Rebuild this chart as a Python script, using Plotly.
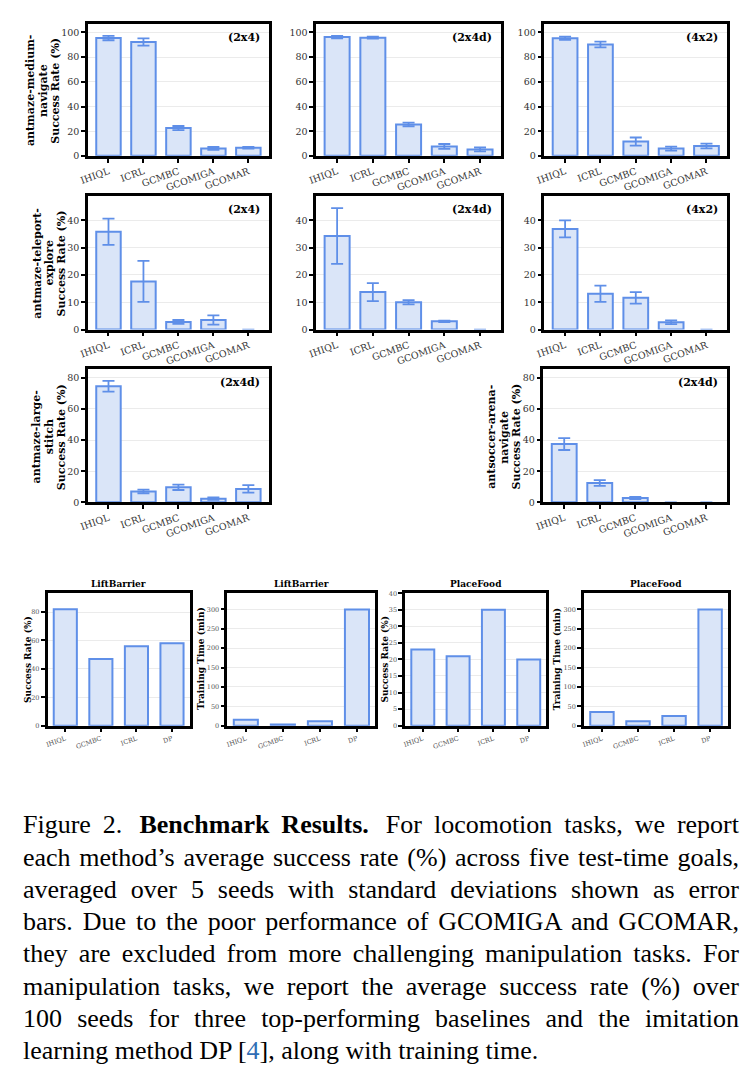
import plotly.graph_objects as go

W, H = 740, 1084

METHODS = ["IHIQL", "ICRL", "GCMBC", "GCOMIGA", "GCOMAR"]
MANIP_METHODS = ["IHIQL", "GCMBC", "ICRL", "DP"]

# antmaze-medium-navigate
MED_2X4 = [95.5, 92.3, 22.5, 6.0, 6.6]
MED_2X4_STD = [1.8, 3.0, 1.7, 1.2, 0.7]
MED_2X4D = [96.3, 95.8, 25.5, 7.6, 5.2]
MED_2X4D_STD = [1.0, 0.8, 1.5, 2.0, 1.6]
MED_4X2 = [95.3, 90.3, 11.6, 5.9, 8.0]
MED_4X2_STD = [1.3, 2.3, 3.3, 1.6, 1.9]

# antmaze-teleport-explore
TEL_2X4 = [35.8, 17.6, 2.8, 3.5, 0.0]
TEL_2X4_STD = [4.8, 7.5, 0.7, 1.7, 0.0]
TEL_2X4D = [34.2, 13.7, 10.0, 3.0, 0.0]
TEL_2X4D_STD = [10.2, 3.3, 0.8, 0.3, 0.0]
TEL_4X2 = [36.8, 13.1, 11.6, 2.7, 0.0]
TEL_4X2_STD = [3.1, 3.0, 2.1, 0.7, 0.0]

# antmaze-large-stitch / antsoccer-arena-navigate
STITCH_2X4D = [74.6, 7.0, 9.6, 2.3, 8.6]
STITCH_2X4D_STD = [3.5, 1.2, 1.7, 0.8, 2.4]
SOCCER_2X4D = [37.4, 12.4, 2.7, 0.0, 0.0]
SOCCER_2X4D_STD = [3.8, 1.9, 0.7, 0.0, 0.0]

# manipulation
LIFT_SUCCESS = [82, 47, 56, 58]
LIFT_TIME = [15, 3, 11, 300]
PLACE_SUCCESS = [23, 21, 35, 20]
PLACE_TIME = [35, 11, 25, 300]

FILL = "#dae5f8"
EDGE = "#5f8fe8"
SERIF = "DejaVu Serif"


def dom_x(left, right):
    return [left / W, right / W]


def dom_y(top, bottom):
    return [1 - bottom / H, 1 - top / H]


# (values, std, tag, y-range, y-ticks, x px, y px)
loco_panels = [
    (MED_2X4, MED_2X4_STD, "(2x4)", [0, 107], [0, 20, 40, 60, 80, 100], (80, 263), (21, 154)),
    (MED_2X4D, MED_2X4D_STD, "(2x4d)", [0, 107], [0, 20, 40, 60, 80, 100], (311, 498), (21, 154)),
    (MED_4X2, MED_4X2_STD, "(4x2)", [0, 107], [0, 20, 40, 60, 80, 100], (542, 727), (21, 154)),
    (TEL_2X4, TEL_2X4_STD, "(2x4)", [0, 49], [0, 10, 20, 30, 40], (80, 263), (194, 329)),
    (TEL_2X4D, TEL_2X4D_STD, "(2x4d)", [0, 49], [0, 10, 20, 30, 40], (311, 498), (194, 329)),
    (TEL_4X2, TEL_4X2_STD, "(4x2)", [0, 49], [0, 10, 20, 30, 40], (542, 727), (194, 329)),
    (STITCH_2X4D, STITCH_2X4D_STD, "(2x4d)", [0, 85.5], [0, 20, 40, 60, 80], (80, 263), (369, 503)),
    (SOCCER_2X4D, SOCCER_2X4D_STD, "(2x4d)", [0, 85.5], [0, 20, 40, 60, 80], (541, 727), (369, 503)),
]

manip_panels = [
    (LIFT_SUCCESS, "LiftBarrier", "Success Rate (%)", [0, 93.7], [0, 20, 40, 60, 80], (39, 183), 19),
    (LIFT_TIME, "LiftBarrier", "Training Time (min)", [0, 343.6], [0, 50, 100, 150, 200, 250, 300], (221, 371), 194),
    (PLACE_SUCCESS, "PlaceFood", "Success Rate (%)", [0, 40.2], [0, 5, 10, 15, 20, 25, 30, 35, 40], (401, 544), 381),
    (PLACE_TIME, "PlaceFood", "Training Time (min)", [0, 343.6], [0, 50, 100, 150, 200, 250, 300], (582, 728), 555),
]

fig = go.Figure()
layout = {}
annotations = []


def axis_style(tick_size, tick_color):
    return dict(
        showline=True, mirror=True, linecolor="black", linewidth=2.5,
        ticks="outside", ticklen=4, tickwidth=1.5, tickcolor="black",
        tickfont=dict(family=SERIF, size=tick_size, color=tick_color),
        zeroline=False,
    )


def rot_label(text, cx, cy, size):
    return dict(
        text=f"<b>{text}</b>", xref="paper", yref="paper", x=cx / W, y=1 - cy / H,
        xanchor="center", yanchor="middle", textangle=-90, showarrow=False,
        font=dict(family=SERIF, size=size, color="black"),
    )


idx = 0
for vals, std, tag, yr, yt, (xl, xr), (yt_px, yb_px) in loco_panels:
    idx += 1
    fig.add_trace(go.Bar(
        x=METHODS, y=vals, width=0.7,
        # zero-valued bars have no visible outline in the paper figure
        marker=dict(color=FILL, line=dict(color=EDGE, width=[2 if v > 0 else 0 for v in vals])),
        error_y=dict(type="data", array=[s if s > 0 else None for s in std],
                     color=EDGE, thickness=1.8, width=6),
        xaxis=f"x{idx}", yaxis=f"y{idx}", showlegend=False,
    ))
    layout[f"xaxis{idx}"] = dict(
        domain=dom_x(xl, xr), anchor=f"y{idx}", range=[-0.585, 4.585],
        tickangle=-20, showgrid=False, **axis_style(9.5, "#333"),
    )
    layout[f"yaxis{idx}"] = dict(
        domain=dom_y(yt_px, yb_px), anchor=f"x{idx}", range=yr, tickvals=yt,
        showgrid=True, gridcolor="#ebebeb", gridwidth=1, **axis_style(9.5, "#333"),
    )
    annotations.append(dict(
        text=f"<b>{tag}</b>", xref="paper", yref="paper",
        x=(xr - 7) / W, y=1 - (yt_px + 5) / H, xanchor="right", yanchor="top",
        showarrow=False, font=dict(family=SERIF, size=11, color="black"),
    ))

row_titles = [
    (["antmaze-medium-", "navigate", "Success Rate (%)"], [22, 35, 47], 88),
    (["antmaze-teleport-", "explore", "Success Rate (%)"], [28, 41, 53], 262),
    (["antmaze-large-", "stitch", "Success Rate (%)"], [28, 41, 53], 437),
    (["antsoccer-arena-", "navigate", "Success Rate (%)"], [489, 502, 514], 437),
]
for lines, xs, cy in row_titles:
    for text, cx in zip(lines, xs):
        annotations.append(rot_label(text, cx, cy, 11))

for vals, title, ytitle, yr, yt, (xl, xr), tx in manip_panels:
    idx += 1
    fig.add_trace(go.Bar(
        x=MANIP_METHODS, y=vals, width=0.65,
        marker=dict(color=FILL, line=dict(color=EDGE, width=2)),
        xaxis=f"x{idx}", yaxis=f"y{idx}", showlegend=False,
    ))
    layout[f"xaxis{idx}"] = dict(
        domain=dom_x(xl, xr), anchor=f"y{idx}", range=[-0.5, 3.5],
        tickangle=-20, showgrid=False, **axis_style(6.5, "#555"),
    )
    layout[f"yaxis{idx}"] = dict(
        domain=dom_y(594, 728), anchor=f"x{idx}", range=yr, tickvals=yt,
        showgrid=True, gridcolor="#ebebeb", gridwidth=1, **axis_style(6.5, "#555"),
    )
    annotations.append(dict(
        text=f"<b>{title}</b>", xref="paper", yref="paper",
        x=(xl + xr) / 2 / W, y=1 - 585 / H, xanchor="center", yanchor="middle",
        showarrow=False, font=dict(family=SERIF, size=9, color="black"),
    ))
    annotations.append(rot_label(ytitle, tx, 661, 9))

CAPTION = [
    "Figure 2.\u2009 <b>Benchmark Results.</b>\u2009 For locomotion tasks, we report",
    "each method’s average success rate (%) across five test-time goals,",
    "averaged over 5 seeds with standard deviations shown as error",
    "bars. Due to the poor performance of GCOMIGA and GCOMAR,",
    "they are excluded from more challenging manipulation tasks. For",
    "manipulation tasks, we report the average success rate (%) over",
    "100 seeds for three top-performing baselines and the imitation",
    "learning method DP [<span style='color:#2f6db5'>4</span>], along with training time.",
]
first_caption = len(annotations)
for i, line in enumerate(CAPTION):
    annotations.append(dict(
        text=line, xref="paper", yref="paper", x=12 / W, y=1 - (828 + 32.5 * i) / H,
        xanchor="left", yanchor="middle", align="left", showarrow=False,
        font=dict(family="Liberation Serif", size=26, color="black"),
    ))
justified = list(range(first_caption, first_caption + len(CAPTION) - 1))

fig.update_layout(
    width=W, height=H, margin=dict(l=0, r=0, t=0, b=0),
    paper_bgcolor="white", plot_bgcolor="white",
    annotations=annotations,
    **layout,
)

# full-justify the caption lines (all but the last) to a 716px column
post = """
document.body.style.margin = '0';
var gd = document.getElementById('{plot_id}');
var rows = %s;
gd.querySelectorAll('g.annotation').forEach(function (g) {
  if (rows.indexOf(parseInt(g.getAttribute('data-index'))) < 0) return;
  var t = g.querySelector('text.annotation-text');
  var gaps = t.textContent.split(' ').length - 1;
  var w = t.getComputedTextLength();
  t.style.wordSpacing = ((716 - w) / gaps) + 'px';
});
""" % justified
fig.write_html("out.html", post_script=post, config={"displayModeBar": False})
